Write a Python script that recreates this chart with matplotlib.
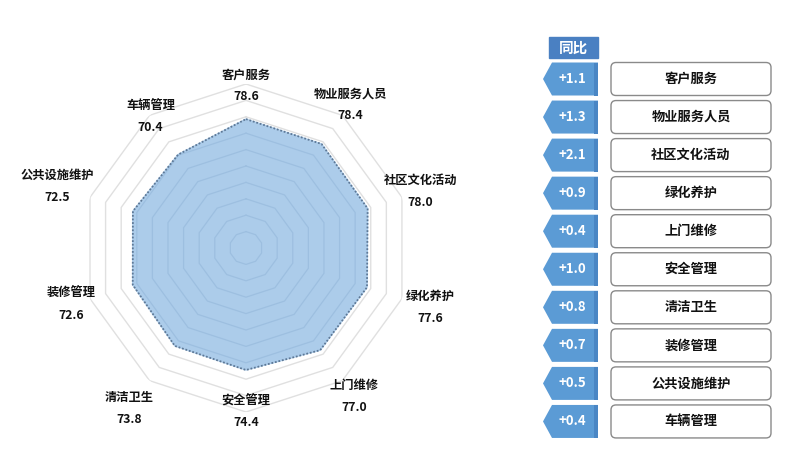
import numpy as np
import matplotlib.pyplot as plt
from matplotlib.patches import Polygon, FancyBboxPatch, Rectangle

plt.rcParams['font.family'] = ['Noto Sans CJK SC', 'DejaVu Sans']

# data
categories = ['客户服务', '物业服务人员', '社区文化活动', '绿化养护', '上门维修',
              '安全管理', '清洁卫生', '装修管理', '公共设施维护', '车辆管理']
scores = [78.6, 78.4, 78.0, 77.6, 77.0, 74.4, 73.8, 72.6, 72.5, 70.4]
yoy = [1.1, 1.3, 2.1, 0.9, 0.4, 1.0, 0.8, 0.7, 0.5, 0.4]

# how far out each label block sits (radial units)
label_r = [99, 108, 112, 118, 112, 100, 121, 112, 121, 99]

n = len(categories)
theta = np.arange(n) * 2 * np.pi / n
th_c = np.append(theta, theta[0])
sc_c = np.append(scores, scores[0])

fig = plt.figure(figsize=(7.95, 4.59), dpi=100)
fig.patch.set_facecolor('white')

# radar
ax = fig.add_axes([0.1031, 0.1024, 0.4126, 0.7146], projection='polar')
ax.set_theta_zero_location('N')
ax.set_theta_direction(-1)
ax.set_ylim(0, 100)
ax.axis('off')

for r in range(10, 101, 10):
    if r <= 70:
        ax.plot(th_c, [r] * (n + 1), color='#9dbfe0', lw=0.9, zorder=3)
    else:
        ax.plot(th_c, [r] * (n + 1), color='#e0e0e0', lw=1.0, zorder=1)

ax.fill(th_c, sc_c, color='#acccea', zorder=2)
ax.plot(th_c, sc_c, color='#5d7896', lw=1.3, ls=(0, (1, 1)), zorder=4)

for t, name, v, lr in zip(theta, categories, scores, label_r):
    ax.annotate(name, (t, lr), xytext=(0, 7.9), textcoords='offset points',
                ha='center', va='center', fontsize=8.8, fontweight='bold',
                color='#111111', annotation_clip=False)
    ax.annotate(f'{v:.1f}', (t, lr), xytext=(0, -7.9), textcoords='offset points',
                ha='center', va='center', fontsize=8.8, fontweight='bold',
                color='#111111', annotation_clip=False)

# right panel, pixel coords
ov = fig.add_axes([0, 0, 1, 1])
ov.set_xlim(0, 795)
ov.set_ylim(459, 0)
ov.axis('off')

ov.add_patch(Rectangle((549, 37), 49, 21, color='#4a80c2'))
ov.text(573.5, 47.5, '同比', ha='center', va='center', color='white',
        fontsize=10.5, fontweight='bold')

y0 = 79
dy = 38.05
h = 33
for i, (name, d) in enumerate(zip(categories, yoy)):
    yc = y0 + i * dy
    tag = Polygon([(543, yc), (552, yc - h / 2), (598, yc - h / 2),
                   (598, yc + h / 2), (552, yc + h / 2)], closed=True,
                  fc='#5b9bd5', ec='none')
    ov.add_patch(tag)
    ov.add_patch(Rectangle((594, yc - h / 2), 4, h, fc='#4a86c4', ec='none'))
    ov.text(572, yc, f'+{d:.1f}', ha='center', va='center', color='white',
            fontsize=9.5, fontweight='bold')
    box = FancyBboxPatch((611, yc - h / 2), 160, h,
                         boxstyle='round,pad=0,rounding_size=5',
                         fc='white', ec='#8a8a8a', lw=1.0)
    ov.add_patch(box)
    ov.text(691, yc, name, ha='center', va='center', color='#111111',
            fontsize=9.5, fontweight='bold')

fig.savefig('out.png', dpi=100)
